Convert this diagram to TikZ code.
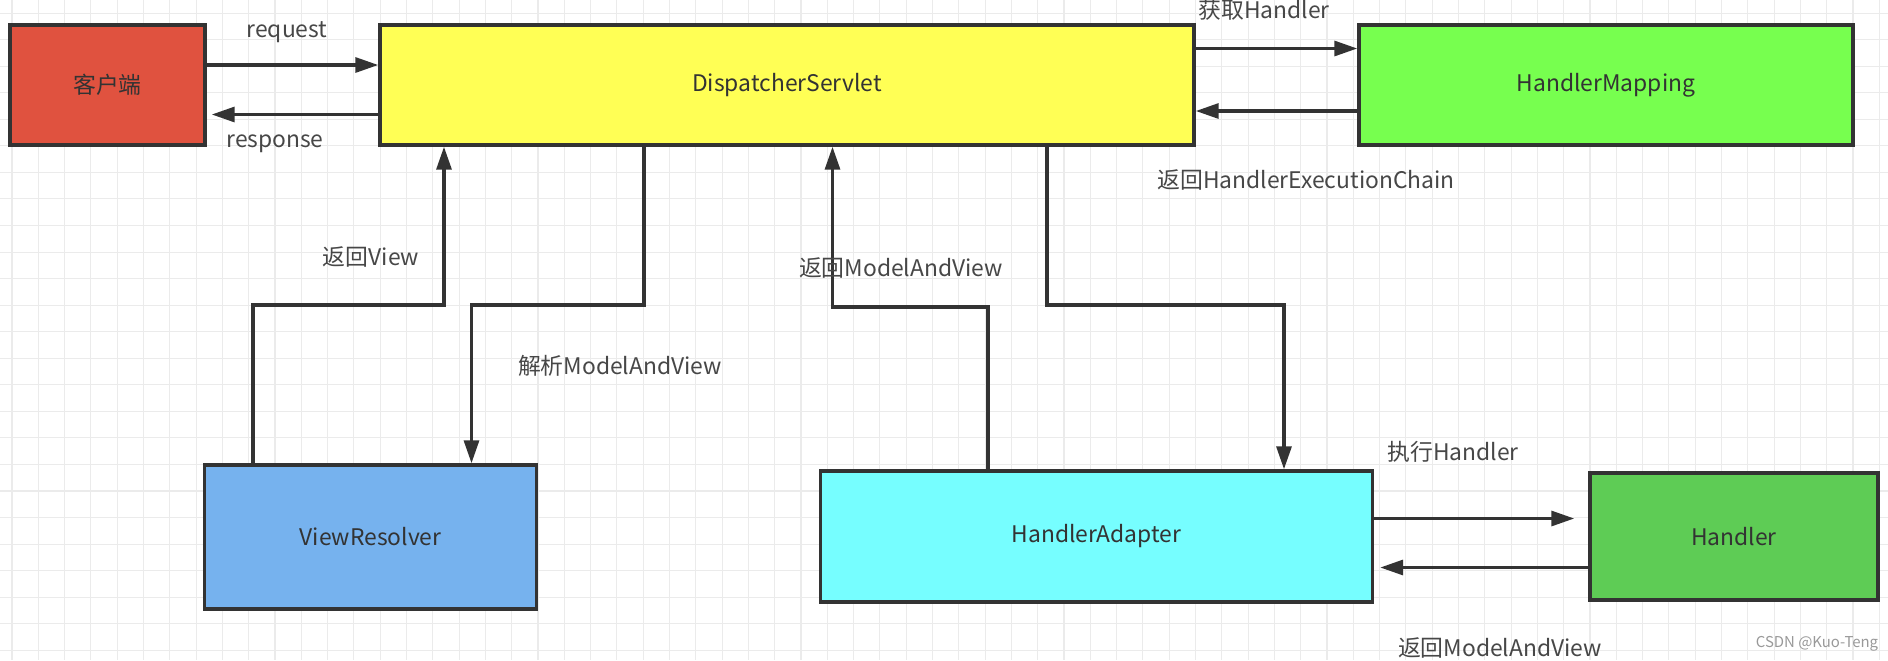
\documentclass[tikz,border=0pt]{standalone}
\usepackage{fontspec}
\setmainfont{Noto Sans CJK SC}
\usetikzlibrary{arrows.meta}
\definecolor{ink}{HTML}{333333}
\definecolor{gridgray}{HTML}{EBEBEB}
\definecolor{cred}{HTML}{E0523F}
\definecolor{cyellow}{HTML}{FFFF55}
\definecolor{clime}{HTML}{77FF4F}
\definecolor{cblue}{HTML}{76B2EE}
\definecolor{ccyan}{HTML}{76FEFF}
\definecolor{cgreen}{HTML}{5ECC55}
\begin{document}
\begin{tikzpicture}[x=0.2mm,y=-0.2mm,
  box/.style={draw=ink,line width=2pt,text=ink,font=\fontsize{13}{15}\selectfont},
  lbl/.style={text=ink!90,font=\fontsize{13}{15}\selectfont},
  arr/.style={draw=ink,line width=1.8pt,-{Triangle[length=13pt,width=8.5pt]}},
  gridline/.style={draw=gridgray,line width=0.6pt}]
\useasboundingbox (0,0) rectangle (1888,660);
\fill[white] (0,0) rectangle (1888,660);
\foreach \i in {0,...,71} \draw[gridline] (12+26.3*\i,0)--(12+26.3*\i,660);
\foreach \j in {0,...,24} \draw[gridline] (0,13.1+26.55*\j)--(1888,13.1+26.55*\j);
% boxes
\node[box,fill=cred,minimum width=39mm,minimum height=24mm] (client) at (107.5,85) {客户端};
\node[box,fill=cyellow,minimum width=162.8mm,minimum height=24mm] (ds) at (787,85) {DispatcherServlet};
\node[box,fill=clime,minimum width=98.8mm,minimum height=24mm] (hm) at (1606,85) {HandlerMapping};
\node[box,fill=cblue,minimum width=66.4mm,minimum height=28.8mm] (vr) at (370.5,537) {ViewResolver};
\node[box,fill=ccyan,minimum width=110.4mm,minimum height=26.2mm] (ha) at (1096.5,536.5) {HandlerAdapter};
\node[box,fill=cgreen,minimum width=57.6mm,minimum height=25.4mm] (handler) at (1734,536.5) {Handler};
% horizontal arrows
\draw[arr] ([yshift=4mm]client.east) -- ([yshift=4mm]ds.west);
\draw[arr] ([yshift=-5.9mm]ds.west) -- ([yshift=-5.9mm,xshift=1mm]client.east);
\draw[arr] ([yshift=7.3mm]ds.east) -- ([yshift=7.3mm]hm.west);
\draw[arr] ([yshift=-5.2mm]hm.west) -- ([yshift=-5.2mm]ds.east);
\draw[arr] ([yshift=3.6mm]ha.east) -- ([yshift=3.6mm,xshift=-2.8mm]handler.west);
\draw[arr] ([yshift=-6.2mm]handler.west) -- ([yshift=-6.2mm,xshift=1.2mm]ha.east);
% elbow arrows
\coordinate (vr1) at (253,305);
\coordinate (vr2) at (444,305);
\coordinate (vr3) at (644,305);
\coordinate (vr4) at (471.5,305);
\coordinate (ha1) at (988,307);
\coordinate (ha2) at (832.5,307);
\coordinate (ha3) at (1047,305);
\coordinate (ha4) at (1284,305);
\draw[arr] (vr.north -| vr1) -- (vr1) -- (vr2) -- (ds.south -| vr2);
\draw[arr] (ds.south -| vr3) -- (vr3) -- (vr4) -- (vr.north -| vr4);
\draw[arr] (ha.north -| ha1) -- (ha1) -- (ha2) -- (ds.south -| ha2);
\draw[arr] (ds.south -| ha3) -- (ha3) -- (ha4) -- (ha.north -| ha4);
% labels
\node[lbl] (lreq) at (287,32) {request};
\node[lbl] (lresp) at (275,144) {response};
\node[lbl] (lget) at (1264,10) {获取Handler};
\node[lbl] (lchain) at (1306,180) {返回HandlerExecutionChain};
\node[lbl] (lview) at (371,257) {返回View};
\node[lbl] (lparse) at (620,366) {解析ModelAndView};
\node[lbl] (lmav) at (901,268) {返回ModelAndView};
\node[lbl] (lexec) at (1453,452) {执行Handler};
\node[lbl] (lmav2) at (1500,648) {返回ModelAndView};
\node[text=gray!80,font=\fontsize{8.5}{10}\selectfont] (mark) at (1817,644) {CSDN @Kuo-Teng};
\end{tikzpicture}
\end{document}
